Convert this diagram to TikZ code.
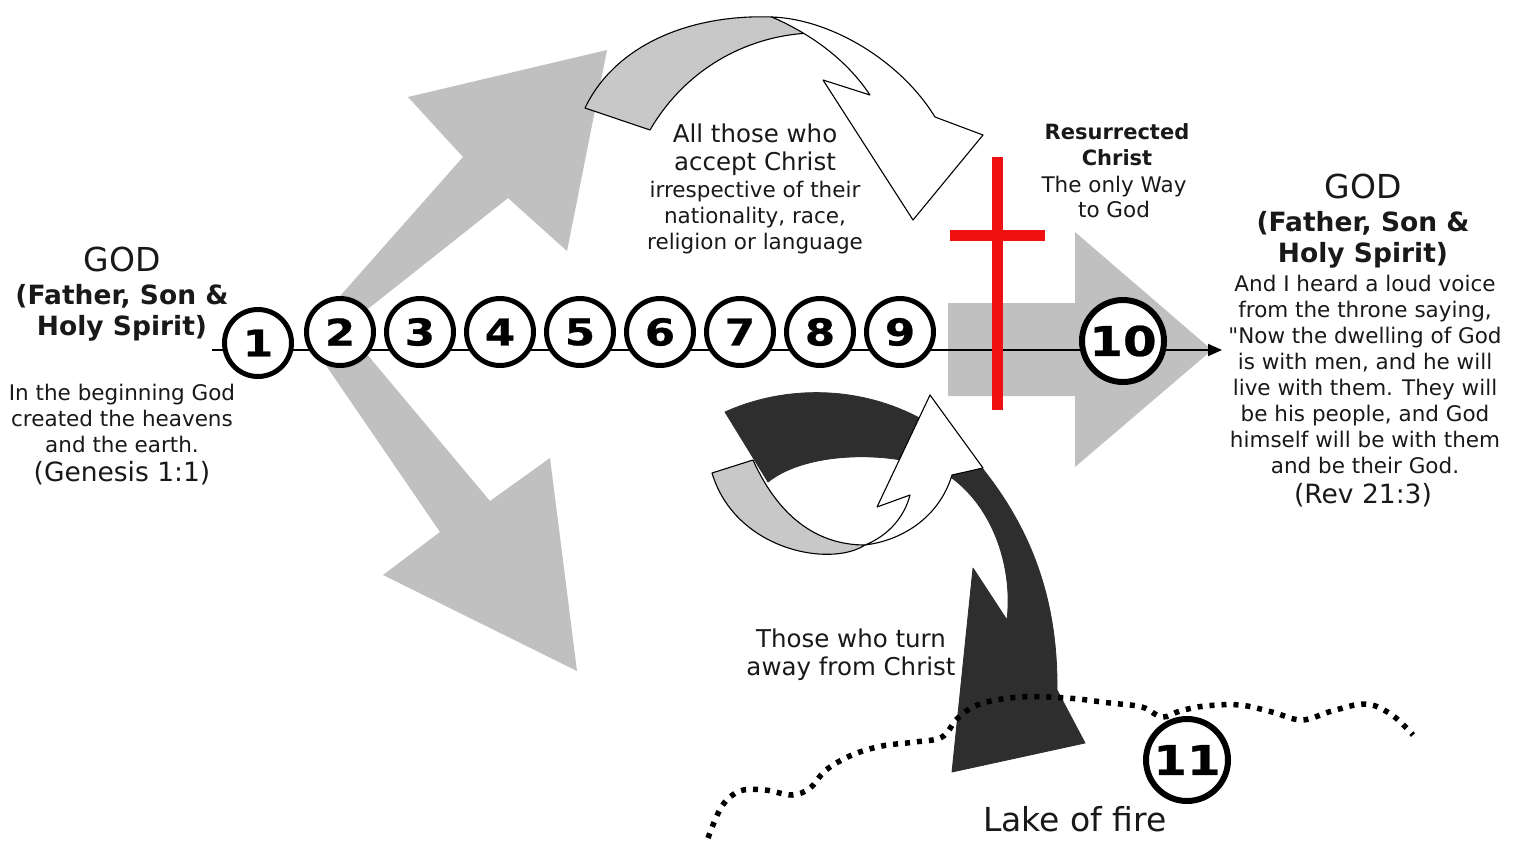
\documentclass[tikz,border=0pt]{standalone}
\usepackage{fontspec}
\setmainfont{DejaVu Sans}[Ligatures=TeXOff]
\newfontfamily\numfont{DejaVu Sans}[FakeStretch=1.18, FakeBold=0.6]
\usetikzlibrary{arrows.meta}
\definecolor{arrowgray}{RGB}{192,192,192}
\definecolor{bandgray}{RGB}{200,200,200}
\definecolor{darkband}{RGB}{46,46,46}
\definecolor{crossred}{RGB}{240,16,16}
\definecolor{ink}{RGB}{25,25,25}
\begin{document}
\begin{tikzpicture}[x=1pt,y=-1pt,
  bigarrow/.style={fill=arrowgray, draw=none},
  graypart/.style={fill=bandgray, draw=black, line width=1.1pt, line join=round},
  whitepart/.style={fill=white, draw=black, line width=1.1pt, line join=round},
  blackpart/.style={fill=darkband, draw=darkband, line width=0.8pt, line join=round},
  numc/.style={circle, draw=black, fill=white, line width=5pt, minimum size=67pt, inner sep=0pt, font=\numfont\bfseries\fontsize{37}{37}\selectfont},
  bignumc/.style={numc, line width=6pt, minimum size=82pt, font=\numfont\bfseries\fontsize{41}{41}\selectfont},
  txt/.style={anchor=base, inner sep=0pt, text=ink},
  body/.style={txt, font=\fontsize{21.5}{26}\selectfont},
  bodylg/.style={txt, font=\fontsize{24.5}{29}\selectfont},
  genst/.style={txt, font=\fontsize{26.5}{30}\selectfont},
  head/.style={txt, font=\fontsize{26.5}{30}\selectfont\bfseries},
  godst/.style={txt, font=\fontsize{33}{36}\selectfont},
  boldsm/.style={txt, font=\fontsize{21}{26}\selectfont\bfseries},
  lakest/.style={txt, font=\fontsize{33}{36}\selectfont},
  mainline/.style={line width=2pt, -{Triangle[length=14pt,width=12pt]}},
  crossst/.style={fill=crossred, draw=none},
  lake/.style={line width=5.5pt, dash pattern=on 5pt off 7pt}
]
\fill[white] (0,0) rectangle (1515,841);
\useasboundingbox (0,0) rectangle (1515,841);

% big gray arrows
\fill[bigarrow] (310,330) -- (463,157) -- (408,97) -- (607,50) -- (567,251) -- (508,198) -- (335,335) -- cycle;
\fill[bigarrow] (312,345) -- (440,532) -- (383,575) -- (577,671) -- (550,458) -- (490,501) -- (355,340) -- cycle;
\fill[bigarrow] (948,303) -- (1075,303) -- (1075,232) -- (1212,350) -- (1075,467) -- (1075,396) -- (948,396) -- cycle;

% top curved arrow
\path[graypart] (585,108) .. controls (615,45) and (690,14) .. (772,17) -- (810,33)
   .. controls (745,36) and (685,70) .. (650,130) -- cycle;
\path[whitepart] (772,17) .. controls (830,19) and (900,60) .. (935,117) -- (983,135) -- (913,220)
   -- (823,80) -- (870,95) .. controls (848,62) and (815,36) .. (772,17) -- cycle;

% bottom curved arrows
\path[graypart] (712,473) -- (753,460) .. controls (780,520) and (820,545) .. (865,545)
   .. controls (830,568) and (735,550) .. (712,473) -- cycle;
\path[blackpart] (725,412) .. controls (800,378) and (905,385) .. (978,463)
   .. controls (1025,520) and (1058,590) .. (1057,690) -- (1085,743) -- (952,772) -- (973,568)
   -- (1007,620) .. controls (1013,570) and (995,510) .. (952,478)
   .. controls (910,450) and (810,448) .. (768,482) -- cycle;
\path[whitepart] (865,545) .. controls (905,540) and (940,515) .. (952,475) -- (983,468) -- (930,395)
   -- (877,507) -- (910,495) .. controls (905,515) and (890,535) .. (865,545) -- cycle;

% main time line
\coordinate (lstart) at (212,350);
\coordinate (ltip) at (1222,350);
\draw[mainline] (lstart) -- (ltip);

% red cross
\fill[crossst] (992,157) rectangle (1003,410);
\fill[crossst] (950,230) rectangle (1045,241);

% numbered circles
\node[numc] (n1) at (258,343) {1};
\node[numc] (n2) at (340,332) {2};
\node[numc] (n3) at (420,332) {3};
\node[numc] (n4) at (500,332) {4};
\node[numc] (n5) at (580,332) {5};
\node[numc] (n6) at (660,332) {6};
\node[numc] (n7) at (740,332) {7};
\node[numc] (n8) at (820,332) {8};
\node[numc] (n9) at (900,332) {9};
\node[bignumc] (n10) at (1123,341) {10};

% lake of fire
\draw[lake] plot[smooth, tension=0.6] coordinates {(708,838) (722,806) (740,791) (765,790) (792,795) (810,788) (826,770) (852,755) (882,746) (915,742) (942,737) (958,718) (980,704) (1020,697) (1067,698) (1110,703) (1142,707) (1162,717) (1180,711) (1205,706) (1240,705) (1272,712) (1302,720) (1332,711) (1366,704) (1392,715) (1413,735)};
\node[bignumc] (n11) at (1187,760) {11};

% texts left
\node[godst] (lgod) at (122,271) {GOD};
\node[head] (lfa) at (122,304) {(Father, Son \&};
\node[head] (lhs) at (122,335) {Holy Spirit)};
\node[body] (lb1) at (122,400) {In the beginning God};
\node[body] (lb2) at (122,426) {created the heavens};
\node[body] (lb3) at (122,452) {and the earth.};
\node[genst] (lb4) at (122,481) {(Genesis 1:1)};

% texts middle top
\node[bodylg] (m1) at (755,142) {All those who};
\node[bodylg] (m2) at (755,170) {accept Christ};
\node[body] (m3) at (755,197) {irrespective of their};
\node[body] (m4) at (755,223) {nationality, race,};
\node[body] (m5) at (755,249) {religion or language};

% resurrected Christ
\node[boldsm] (r1) at (1117,139) {Resurrected};
\node[boldsm] (r2) at (1117,165) {Christ};
\node[body] (r3) at (1114,192) {The only Way};
\node[body] (r4) at (1114,217) {to God};

% texts right
\node[godst] (rgod) at (1363,198) {GOD};
\node[head] (rfa) at (1363,231) {(Father, Son \&};
\node[head] (rhs) at (1363,262) {Holy Spirit)};
\node[body] (rb1) at (1365,291) {And I heard a loud voice};
\node[body] (rb2) at (1365,317) {from the throne saying,};
\node[body] (rb3) at (1365,343) {"Now the dwelling of God};
\node[body] (rb4) at (1365,369) {is with men, and he will};
\node[body] (rb5) at (1365,395) {live with them. They will};
\node[body] (rb6) at (1365,421) {be his people, and God};
\node[body] (rb7) at (1365,447) {himself will be with them};
\node[body] (rb8) at (1365,473) {and be their God.};
\node[genst] (rb9) at (1363,503) {(Rev 21:3)};

% bottom texts
\node[bodylg] (t1) at (851,647) {Those who turn};
\node[bodylg] (t2) at (851,675) {away from Christ};
\node[lakest] (lk) at (1075,831) {Lake of fire};
\end{tikzpicture}
\end{document}
